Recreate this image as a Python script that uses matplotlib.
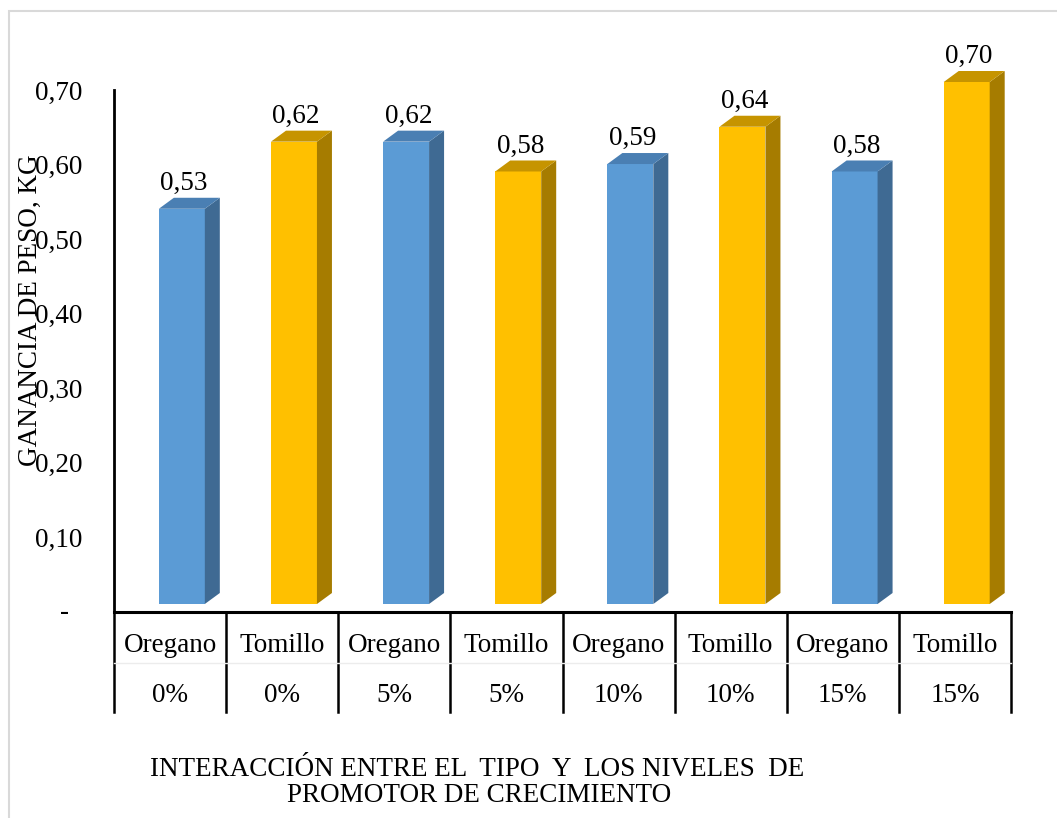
import matplotlib
matplotlib.use("Agg")
import matplotlib.pyplot as plt
from matplotlib.patches import Polygon, Rectangle
from matplotlib.transforms import blended_transform_factory

plt.rcParams["font.family"] = ["Liberation Serif", "DejaVu Serif"]

# data
tipos = ["Oregano", "Tomillo", "Oregano", "Tomillo", "Oregano", "Tomillo", "Oregano", "Tomillo"]
niveles = ["0%", "0%", "5%", "5%", "10%", "10%", "15%", "15%"]
ganancia = [0.53, 0.62, 0.62, 0.58, 0.59, 0.64, 0.58, 0.70]
y_ticks = [0.0, 0.1, 0.2, 0.3, 0.4, 0.5, 0.6, 0.7]
y_labels = ["", "0,10", "0,20", "0,30", "0,40", "0,50", "0,60", "0,70"]

# front / side / top face colours per type
caras = {
    "Oregano": ("#5B9BD5", "#3F6A93", "#4A7FB3"),
    "Tomillo": ("#FFC000", "#A67C00", "#C69400"),
}

FS = 19.5
W, H = 1057, 818
fig = plt.figure(figsize=(W / 100, H / 100), dpi=100)
fig.patch.set_facecolor("white")

# plot area in pixels
px_left, px_right, px_zero, px_top = 114, 1011, 612, 40
px_per_unit = (612 - 90) / 0.70
ax = fig.add_axes([px_left / W, (H - px_zero) / H,
                   (px_right - px_left) / W, (px_zero - px_top) / H])
ax.set_xlim(0, len(ganancia))
ax.set_ylim(0, (px_zero - px_top) / px_per_unit)
ax.patch.set_alpha(0)

# 3d look offsets
base = 8 / px_per_unit
dx = 15 / ((px_right - px_left) / len(ganancia))
dy = 11 / px_per_unit
x0, x1 = 0.40, 0.81

for i, (t, v) in enumerate(zip(tipos, ganancia)):
    fc, sc, tc = caras[t]
    l, r = i + x0, i + x1
    ax.add_patch(Polygon([(l, base), (r, base), (r, base + v), (l, base + v)],
                         closed=True, facecolor=fc, edgecolor="none", zorder=3))
    ax.add_patch(Polygon([(r, base), (r + dx, base + dy), (r + dx, base + v + dy), (r, base + v)],
                         closed=True, facecolor=sc, edgecolor="none", zorder=3))
    ax.add_patch(Polygon([(l, base + v), (r, base + v), (r + dx, base + v + dy), (l + dx, base + v + dy)],
                         closed=True, facecolor=tc, edgecolor="none", zorder=3))
    ax.text((l + r) / 2 + 0.02, base + v + dy + base, f"{v:.2f}".replace(".", ","),
            ha="center", va="baseline", fontsize=FS, color="black", zorder=4)

# axes styling
for s in ["top", "right"]:
    ax.spines[s].set_visible(False)
ax.spines["left"].set_bounds(0, 0.70)
ax.spines["left"].set_linewidth(2)
ax.spines["bottom"].set_linewidth(2.2)
ax.set_yticks(y_ticks)
ax.set_yticklabels(y_labels, fontsize=FS)
ax.tick_params(axis="y", length=0, pad=23)
ax.set_xticks([])
ax.text(-0.44, 0, "-", ha="center", va="center", fontsize=FS)

# category table under the axis
tr = blended_transform_factory(ax.transData, fig.transFigure)
for k in range(len(ganancia) + 1):
    ax.plot([k, k], [(H - 612) / H, (H - 712) / H], color="black", lw=1.8,
            transform=tr, clip_on=False)
ax.plot([0, len(ganancia)], [(H - 663) / H] * 2, color="#ececec", lw=1,
        transform=tr, clip_on=False)
for i, (t, n) in enumerate(zip(tipos, niveles)):
    ax.text(i + 0.5, (H - 645) / H, t, ha="center", va="center", fontsize=FS, transform=tr)
    ax.text(i + 0.5, (H - 695) / H, n, ha="center", va="center", fontsize=FS, transform=tr)

fig.text(30 / W, (H - 310) / H, "GANANCIA DE PESO, KG", rotation=90,
         ha="center", va="center", fontsize=FS)
fig.text(477 / W, (H - 770) / H, "INTERACCIÓN ENTRE EL  TIPO  Y  LOS NIVELES  DE",
         ha="center", va="center", fontsize=FS)
fig.text(479 / W, (H - 796) / H, "PROMOTOR DE CRECIMIENTO",
         ha="center", va="center", fontsize=FS)

# chart frame
fig.add_artist(Rectangle((9 / W, -0.02), 1.05, (H - 11) / H + 0.02,
                         transform=fig.transFigure, fill=False,
                         edgecolor="#d9d9d9", lw=1.5))

fig.savefig("out.png", dpi=100)
